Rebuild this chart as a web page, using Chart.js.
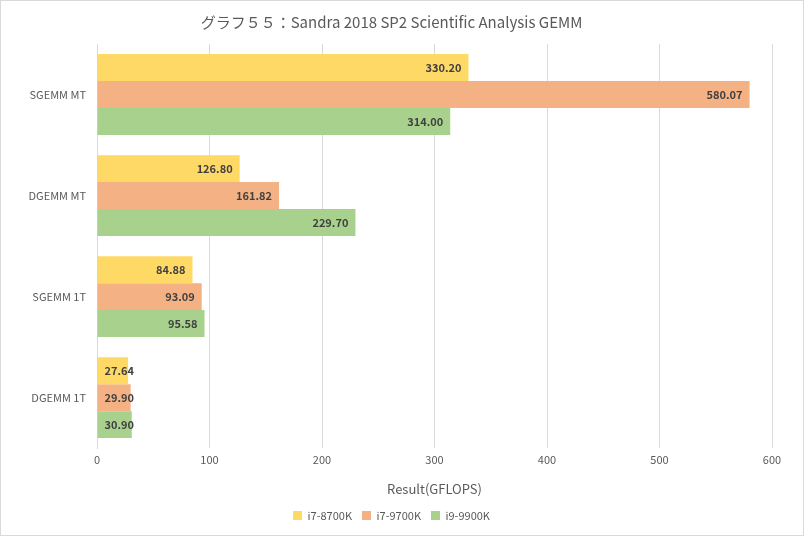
<!DOCTYPE html>
<html>
<head>
<meta charset="utf-8">
<script src="https://cdn.jsdelivr.net/npm/chart.js@4"></script>
<style>
  html, body { margin: 0; padding: 0; background: #fff; }
  #wrap { width: 802px; height: 534px; border: 1px solid #d9d9d9; }
</style>
</head>
<body>
<div id="wrap"><canvas id="chart" width="802" height="534"></canvas></div>
<script>
const categories = ["SGEMM MT", "DGEMM MT", "SGEMM 1T", "DGEMM 1T"];
const i7_8700K = [330.20, 126.80, 84.88, 27.64];
const i7_9700K = [580.07, 161.82, 93.09, 29.90];
const i9_9900K = [314.00, 229.70, 95.58, 30.90];
const seriesNames = ["i7-8700K", "i7-9700K", "i9-9900K"];
const seriesColors = ["#ffd966", "#f4b183", "#a9d18e"];

const FONT = "'Noto Sans CJK JP', 'Noto Sans', sans-serif";

// value labels at the inside end of each bar (kept clear of the axis on short bars)
const valueLabels = {
  id: "valueLabels",
  afterDatasetsDraw(chart) {
    const ctx = chart.ctx;
    ctx.save();
    ctx.font = "bold 11px " + FONT;
    ctx.fillStyle = "#404040";
    ctx.textAlign = "left";
    ctx.textBaseline = "middle";
    chart.data.datasets.forEach((ds, i) => {
      chart.getDatasetMeta(i).data.forEach((bar, j) => {
        const txt = ds.data[j].toFixed(2);
        const w = ctx.measureText(txt).width;
        const x = Math.max(bar.x - 7 - w, bar.base + 7);
        ctx.fillText(txt, x, bar.y);
      });
    });
    ctx.restore();
  }
};

new Chart(document.getElementById("chart"), {
  type: "bar",
  data: {
    labels: categories,
    datasets: [i7_8700K, i7_9700K, i9_9900K].map((d, i) => ({
      label: seriesNames[i],
      data: d,
      backgroundColor: seriesColors[i],
      borderWidth: 0,
      categoryPercentage: 0.8,
      barPercentage: 1.0,
    })),
  },
  options: {
    indexAxis: "y",
    responsive: false,
    animation: false,
    layout: { padding: { left: 10, right: 31, top: 0, bottom: 4 } },
    plugins: {
      title: {
        display: true,
        text: "グラフ５５：Sandra 2018 SP2 Scientific Analysis GEMM",
        color: "#595959",
        font: { family: FONT, size: 15, weight: "normal" },
        padding: { top: 12, bottom: 13 },
      },
      legend: {
        position: "bottom",
        labels: {
          color: "#595959",
          font: { family: FONT, size: 11 },
          boxWidth: 9,
          boxHeight: 9,
          padding: 10,
        },
      },
      tooltip: { enabled: false },
    },
    scales: {
      x: {
        min: 0,
        max: 600,
        ticks: { stepSize: 100, color: "#595959", font: { family: FONT, size: 11 }, padding: 5 },
        grid: { color: "#d9d9d9", drawTicks: false },
        border: { display: false },
        title: {
          display: true,
          text: "Result(GFLOPS)",
          color: "#595959",
          font: { family: FONT, size: 13 },
          padding: { top: 10, bottom: 3 },
        },
      },
      y: {
        ticks: { color: "#595959", font: { family: FONT, size: 11 }, padding: 11 },
        grid: { display: false, drawTicks: false },
        border: { display: true, color: "#d9d9d9" },
        afterFit(scale) { scale.width = 86; },
      },
    },
  },
  plugins: [valueLabels],
});
</script>
</body>
</html>
